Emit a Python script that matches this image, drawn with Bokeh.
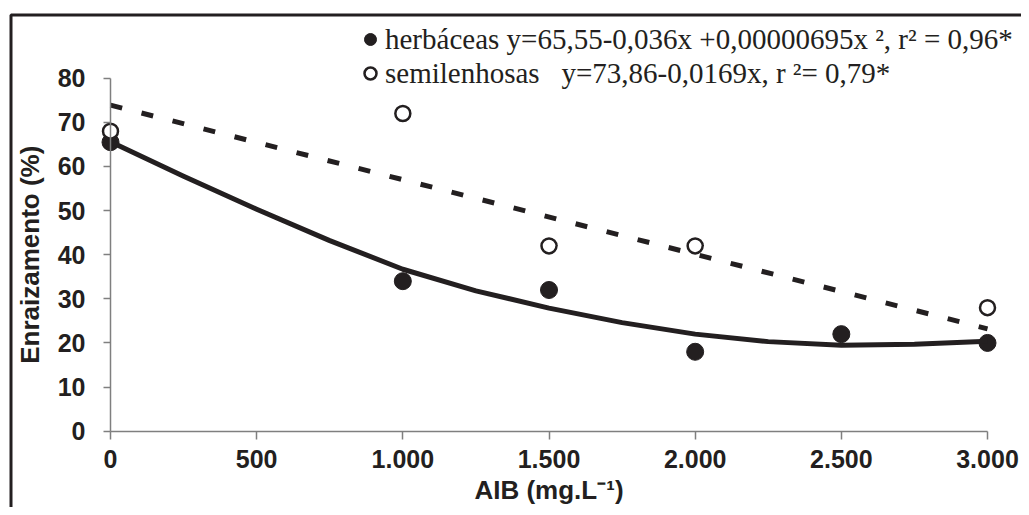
import math
from bokeh.plotting import figure
from bokeh.models import (FixedTicker, Legend, LegendItem, Range1d, BoxAnnotation, Label)
from bokeh.embed import file_html
from bokeh.resources import INLINE

# ---- data ----
aib_herb = [0, 1000, 1500, 2000, 2500, 3000]
herbaceas = [65.5, 34, 32, 18, 22, 20]

aib_semi = [0, 1000, 1500, 2000, 3000]
semilenhosas = [68, 72, 42, 42, 28]

# fitted curves as drawn in the chart
herb_fit_x = [0, 250, 500, 750, 1000, 1250, 1500, 1750, 2000, 2250, 2500, 2750, 3000]
herb_fit_y = [65.6, 57.8, 50.3, 43.2, 36.7, 31.8, 27.9, 24.6, 22.0, 20.3, 19.5, 19.7, 20.4]

semi_fit_x = [0, 3000]
semi_fit_y = [73.9, 23.2]

x_ticks = [0, 500, 1000, 1500, 2000, 2500, 3000]
x_tick_labels = ["0", "500", "1.000", "1.500", "2.000", "2.500", "3.000"]
y_ticks = [0, 10, 20, 30, 40, 50, 60, 70, 80]

label_herb = "herbáceas y=65,55-0,036x +0,00000695x\u00a0², r² = 0,96*"
label_semi = "semilenhosas\u00a0\u00a0 y=73,86-0,0169x, r\u00a0²= 0,79*"

x_label = "AIB (mg.L⁻¹)"
y_label = "Enraizamento (%)"

INK = "#231f20"
AXIS = "#7f7f7f"

# ---- layout (canvas pixels) ----
W, H = 1021, 507
X0_PX, X3000_PX = 110.0, 987.0      # canvas x of AIB = 0 and 3000
Y0_PX, Y80_PX = 430.7, 77.7         # canvas y of 0 % and 80 %
sx = (X3000_PX - X0_PX) / 3000.0
sy = (Y0_PX - Y80_PX) / 80.0
x_lo, x_hi = -X0_PX / sx, (W - X0_PX) / sx
y_hi, y_lo = Y0_PX / sy, (Y0_PX - H) / sy

p = figure(
    width=W, height=H,
    x_range=Range1d(x_lo, x_hi), y_range=Range1d(y_lo, y_hi),
    output_backend="svg", toolbar_location=None,
    min_border=0, min_border_left=0, min_border_right=0,
    min_border_top=0, min_border_bottom=0,
)
p.background_fill_color = "white"
p.border_fill_color = "white"
p.outline_line_color = None
p.grid.visible = False

# axes, drawn at the data origin
p.xaxis.ticker = FixedTicker(ticks=x_ticks)
p.xaxis.major_label_overrides = {t: l for t, l in zip(x_ticks, x_tick_labels)}
p.xaxis.bounds = (0, 3000)
p.xaxis.fixed_location = 0
p.yaxis.ticker = FixedTicker(ticks=y_ticks)
p.yaxis.bounds = (0, 80)
p.yaxis.fixed_location = 0
for ax in (p.xaxis, p.yaxis):
    ax.minor_tick_line_color = None
    ax.major_tick_in = 0
    ax.axis_line_color = AXIS
    ax.axis_line_width = 1.5
    ax.major_tick_line_color = AXIS
    ax.major_tick_line_width = 1.5
    ax.major_label_text_font = "Liberation Sans"
    ax.major_label_text_font_style = "bold"
    ax.major_label_text_font_size = "25px"
    ax.major_label_text_color = INK
p.xaxis.major_tick_out = 8
p.yaxis.major_tick_out = 7
p.xaxis.major_label_standoff = 11
p.yaxis.major_label_standoff = 18

# axis titles
p.add_layout(Label(x=1500, y=H - 489, x_units="data", y_units="screen", text=x_label,
                   text_font="Liberation Sans", text_font_style="bold",
                   text_font_size="26px", text_color=INK,
                   text_align="center", text_baseline="middle"))
p.add_layout(Label(x=29, y=40, x_units="screen", y_units="data", text=y_label,
                   angle=math.pi / 2,
                   text_font="Liberation Sans", text_font_style="bold",
                   text_font_size="26px", text_color=INK,
                   text_align="center", text_baseline="middle"))

# data marks
r_herb = p.scatter(aib_herb, herbaceas, size=17, marker="circle",
                   fill_color=INK, line_color=INK, line_width=1)
r_semi = p.scatter(aib_semi, semilenhosas, size=15, marker="circle",
                   fill_color="white", line_color=INK, line_width=2.5)
p.line(herb_fit_x, herb_fit_y, line_color=INK, line_width=5, line_join="round")
p.line(semi_fit_x, semi_fit_y, line_color=INK, line_width=5, line_dash="12 20")

legend_style = dict(
    orientation="vertical", glyph_width=30, glyph_height=34, label_height=34,
    spacing=0, label_standoff=0, padding=0, margin=0,
    border_line_color=None, background_fill_alpha=0,
    label_text_font="Liberation Serif", label_text_font_size="29px",
    label_text_color=INK,
)
p.add_layout(Legend(items=[LegendItem(label=label_herb, renderers=[r_herb])],
                    location=(355, H - 56), **legend_style), "center")
p.add_layout(Legend(items=[LegendItem(label=label_semi, renderers=[r_semi])],
                    location=(355, H - 90), **legend_style), "center")

# outer frame of the figure (only its top and left edges fall on the page)
p.add_layout(BoxAnnotation(
    left=10.5, top=14.5, right=W + 40, bottom=H + 40,
    left_units="canvas", top_units="canvas", right_units="canvas", bottom_units="canvas",
    fill_alpha=0, line_color=INK, line_alpha=1, line_width=3, level="overlay",
))

open("out.html", "w").write(file_html(p, INLINE))
